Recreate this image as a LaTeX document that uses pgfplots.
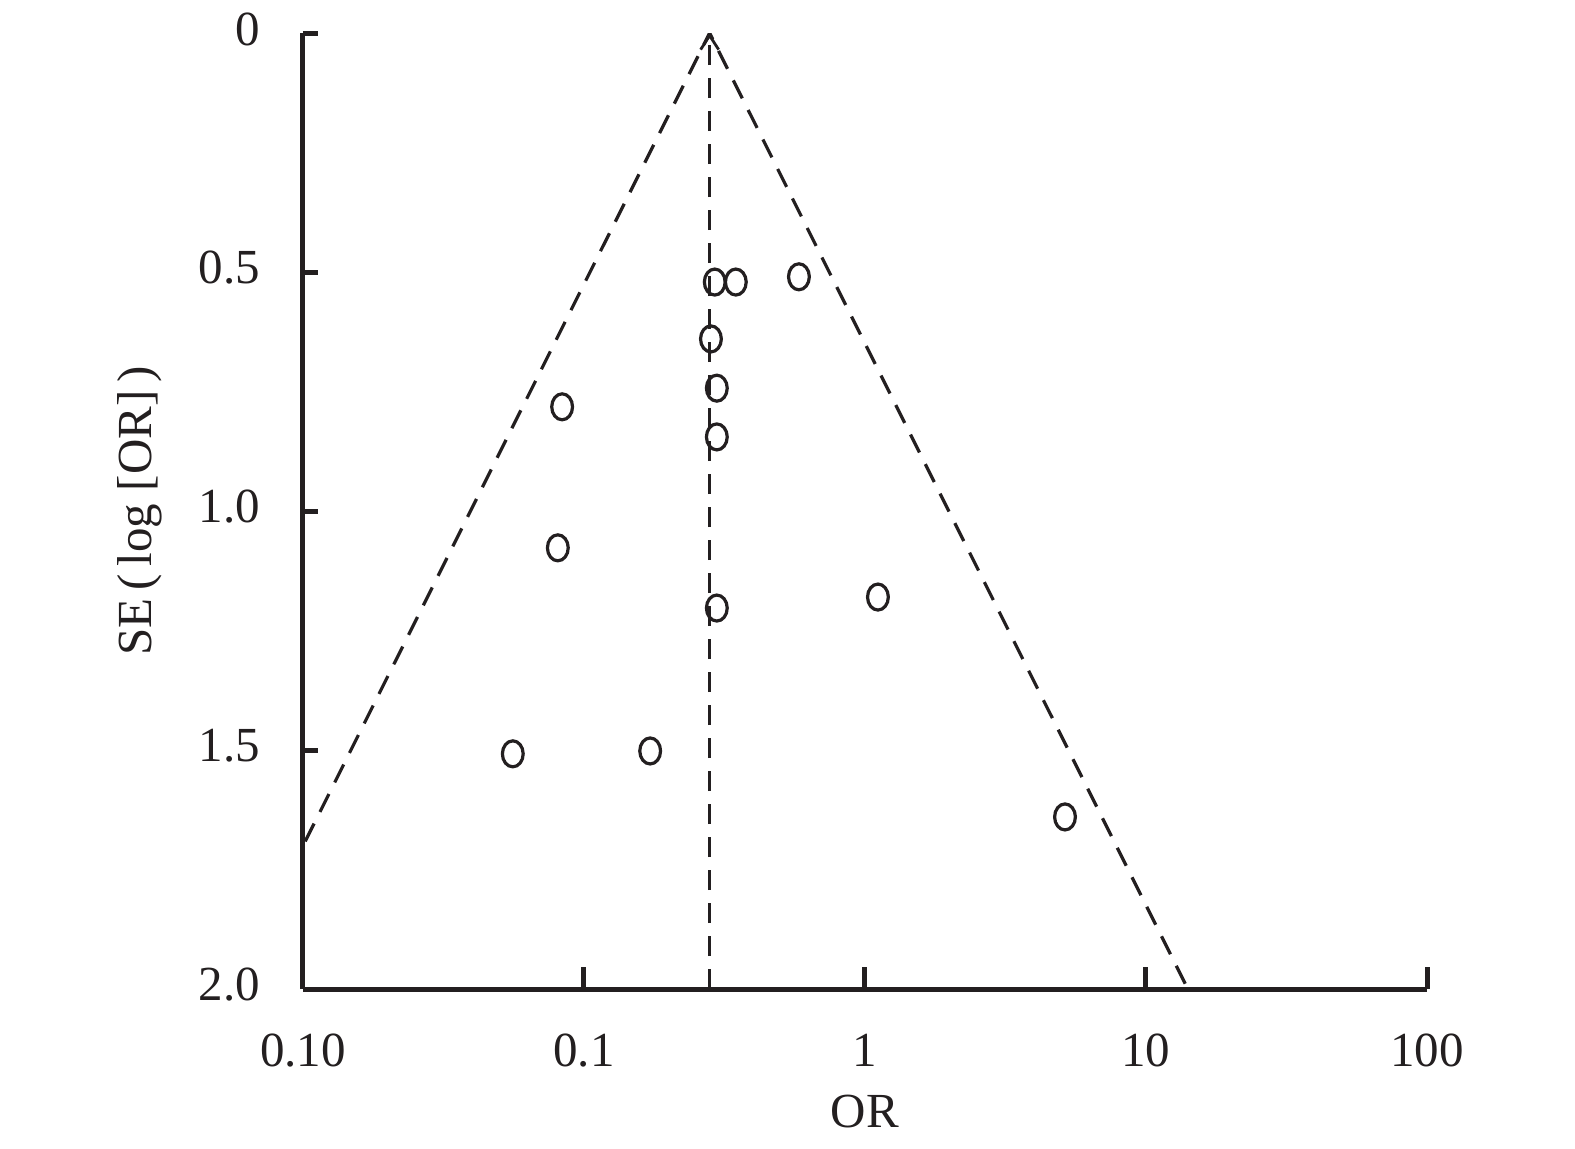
\documentclass[border=0pt]{standalone}
\usepackage{pgfplots}
\pgfplotsset{compat=1.18}
\usepackage{fontspec}
\setmainfont{Liberation Serif}
\usetikzlibrary{arrows.meta}
\definecolor{ink}{HTML}{231F20}

\begin{document}
\begin{tikzpicture}[font=\fontsize{24.5}{28}\selectfont]
\begin{axis}[
    name=ax,
    at={(0,0)}, anchor=south west,
    scale only axis,
    width=562pt, height=478pt,
    xmode=log, log basis x=10,
    xmin=0.01, xmax=100,
    ymin=0, ymax=2,
    y dir=reverse,
    axis lines*=left,
    axis line style={line width=2.5pt, color=ink},
    tick align=inside,
    tick style={line width=2.5pt, color=ink},
    xtick={0.01,0.1,1,10,100},
    xticklabels={0.10,0.1,1,10,100},
    ytick={0,0.5,1,1.5,2},
    yticklabels={0,0.5,1.0,1.5,2.0},
    xminorticks=false,
    yminorticks=false,
    xtick style={/pgfplots/major tick length=11pt},
    ytick style={/pgfplots/major tick length=7.5pt},
    /pgf/number format/assume math mode=true,
    xticklabel style={yshift=-19pt, color=ink},
    yticklabel style={xshift=-18pt, yshift=2pt, color=ink},
    xlabel={OR},
    ylabel={SE\,(\,log [OR]\,)},
    xlabel style={at={(axis description cs:0.5,0)}, anchor=center, yshift=-61pt, color=ink},
    ylabel style={at={(axis description cs:0,0.5)}, anchor=center, yshift=81.5pt, color=ink},
    clip=true,
]

% funnel (95% limits around pooled OR = 0.28)
\addplot[ink, line width=1.6pt, dash pattern=on 10pt off 6.5pt]
    coordinates {(0.00556,2) (0.28,0) (14.1,2)};

% pooled estimate
\addplot[ink, line width=1.6pt, dash pattern=on 10pt off 6.5pt,
    -{Straight Barb[length=7pt,width=9pt,line width=1.4pt]}]
    coordinates {(0.28,2) (0.28,0)};

% studies
\addplot[only marks, mark=o, mark size=5.2pt, color=ink,
    mark options={yscale=1.25, line width=1.6pt}]
    coordinates {
    (0.292,0.521) (0.347,0.521) (0.582,0.510)
    (0.283,0.640) (0.297,0.743) (0.0836,0.782)
    (0.297,0.845) (0.0807,1.077) (0.297,1.203)
    (1.112,1.180) (0.0558,1.508) (0.172,1.502)
    (5.15,1.640)
    };

\end{axis}
\pgfresetboundingbox
\path (-151.5pt,-79.5pt) rectangle (636pt,494.5pt);
\end{tikzpicture}
\end{document}
